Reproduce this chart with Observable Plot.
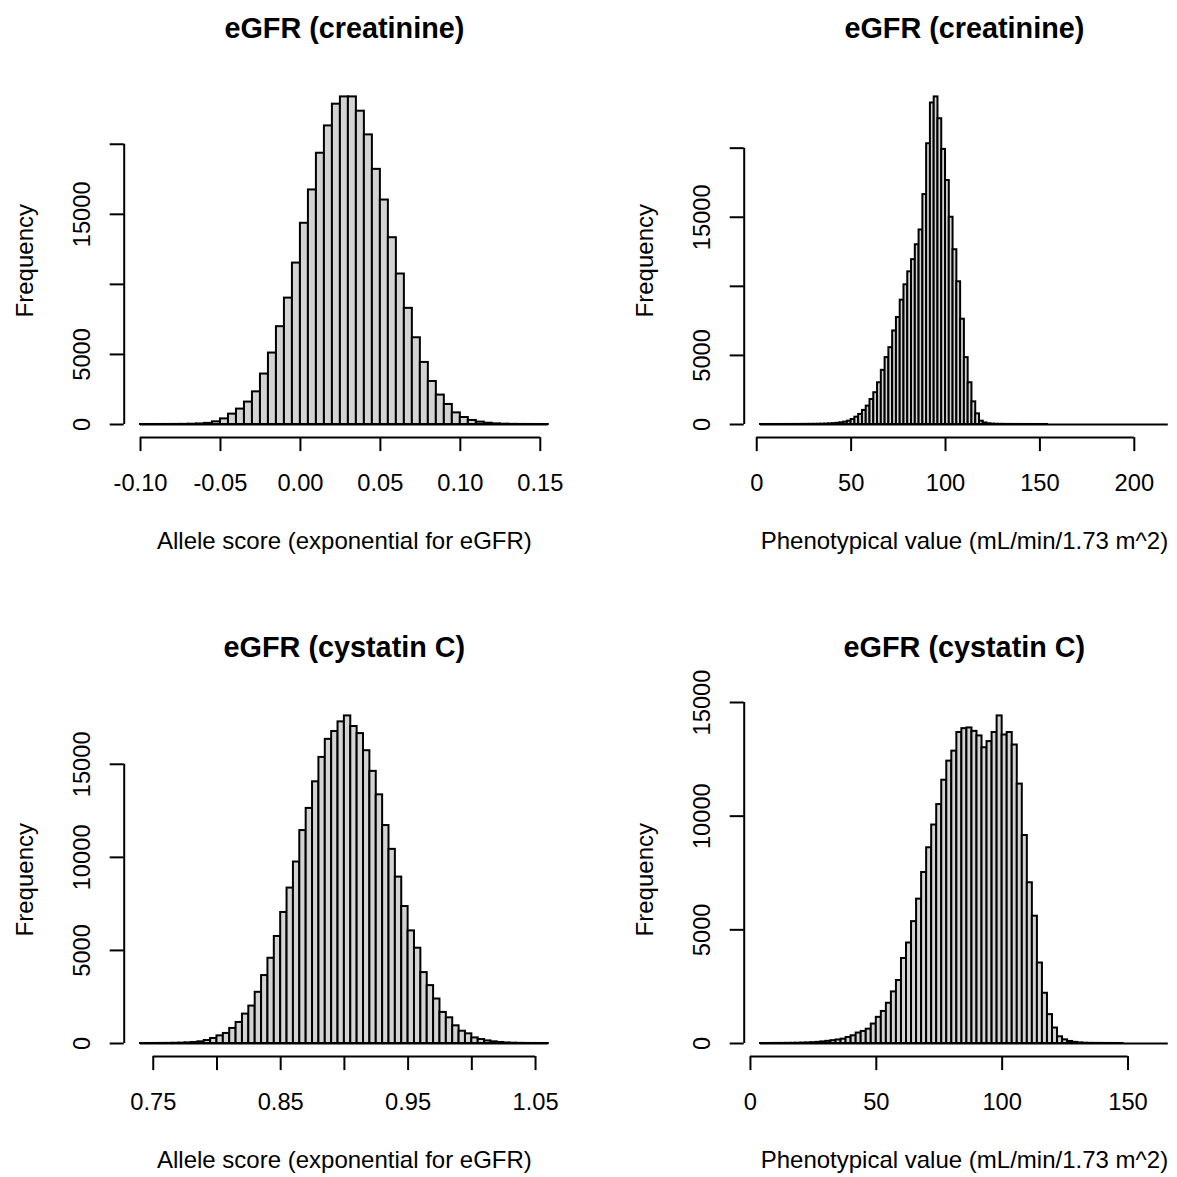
<!DOCTYPE html>
<html><head><meta charset="utf-8">
<script src="https://cdn.jsdelivr.net/npm/d3@7"></script>
<script src="https://cdn.jsdelivr.net/npm/@observablehq/plot@0.6"></script>
<style>
html,body{margin:0;padding:0;background:#fff;overflow:hidden}
#wrap{position:relative;width:1177px;height:1177px;overflow:hidden;background:#fff}
.panel{position:absolute;width:619px;height:619px}
.panel svg{max-width:none !important;width:619px;height:619px}
</style></head><body><div id="wrap"></div>
<script>
// ---- Panel 1: eGFR (creatinine), allele score ----
const creatAlleleStart = -0.1, creatAlleleWidth = 0.005;
const creatAlleleCounts = [1,1,2,3,6,10,20,40,80,190,400,740,1100,1600,2330,3600,5100,6980,9020,11520,
  14360,16740,19360,21310,22860,23380,23380,22360,20670,18210,16020,13330,10740,8290,6190,4430,3070,2100,1430,830,
  500,290,170,90,45,22,10,5,3,1,1];
const creatAlleleXTicks = [-0.10,-0.05,0.00,0.05,0.10,0.15];
const creatAlleleXLabels = ["-0.10","-0.05","0.00","0.05","0.10","0.15"];
const creatAlleleYTicks = [0,5000,10000,15000,20000];
const creatAlleleYLabels = ["0","5000","","15000",""];

// ---- Panel 2: eGFR (creatinine), phenotypical value ----
const creatPhenoStart = 2, creatPhenoWidth = 2;
const creatPhenoCounts = [1,1,1,1,2,2,2,3,3,4,
  5,6,8,10,13,17,22,30,42,60,
  85,120,170,240,360,530,730,1020,1330,1810,
  2300,3020,3920,4840,5560,6770,7740,9000,10110,11050,
  11930,13010,14080,16640,20320,23270,23710,22130,19910,17660,
  15000,12650,10330,7620,4840,3020,1640,770,240,110,
  50,25,15,10,7,5,4,3,3,2,
  2,2,1,1,1,1,0,0,0,0,
  0,0,0,0,0,0,0,0,0,0,0,0,0,0,0,0,0,0,0,0,0,0,0,0,0,0,0,0];
const creatPhenoXTicks = [0,50,100,150,200];
const creatPhenoXLabels = ["0","50","100","150","200"];
const creatPhenoYTicks = [0,5000,10000,15000,20000];
const creatPhenoYLabels = ["0","5000","","15000",""];

// ---- Panel 3: eGFR (cystatin C), allele score ----
const cysAlleleStart = 0.74, cysAlleleWidth = 0.005;
const cysAlleleCounts = [1,1,2,4,6,12,20,35,55,90,160,270,410,540,810,1130,1580,2010,2750,3650,
  4580,5750,7040,8350,9750,11440,12630,14060,15370,16340,16760,17280,17600,17030,16650,15730,14620,13360,11710,10430,
  8940,7360,6050,5120,3810,3110,2390,1670,1380,950,660,520,300,215,140,90,55,30,15,8,4,2,1,1];
const cysAlleleXTicks = [0.75,0.80,0.85,0.90,0.95,1.00,1.05];
const cysAlleleXLabels = ["0.75","","0.85","","0.95","","1.05"];
const cysAlleleYTicks = [0,5000,10000,15000];
const cysAlleleYLabels = ["0","5000","10000","15000"];

// ---- Panel 4: eGFR (cystatin C), phenotypical value ----
const cysPhenoStart = 4, cysPhenoWidth = 2;
const cysPhenoCounts = [1,1,2,3,4,6,8,12,18,25,35,50,70,95,125,155,190,265,340,460,
  530,630,855,1150,1410,1770,2270,2770,3740,4420,5360,6350,7520,8610,9610,10510,11580,12420,12860,13680,
  13850,13880,13730,13530,13010,13280,13680,14410,13570,13680,13130,11410,9150,7070,5600,3540,2210,1270,680,295,
  160,90,50,25,12,6,4,3,2,2,1,1,0,0,0,0,0,0,0,0,0];
const cysPhenoXTicks = [0,50,100,150];
const cysPhenoXLabels = ["0","50","100","150"];
const cysPhenoYTicks = [0,5000,10000,15000];
const cysPhenoYLabels = ["0","5000","10000","15000"];

const titleCreat = "eGFR (creatinine)";
const titleCys = "eGFR (cystatin C)";
const xTitleAllele = "Allele score (exponential for eGFR)";
const xTitlePheno = "Phenotypical value (mL/min/1.73 m^2)";
const yTitle = "Frequency";

const FONT = "'Liberation Sans', Arial, Helvetica, sans-serif";

function panel(cfg) {
  const n = cfg.counts.length;
  const edge = i => +(cfg.start + i * cfg.width).toFixed(6);
  const bins = cfg.counts.map((c, i) => ({x1: edge(i), x2: edge(i + 1), n: c}));
  const lo = edge(0), hi = edge(n);
  const M = d3.max(cfg.counts);
  const xd = [lo - 0.04 * (hi - lo), hi + 0.04 * (hi - lo)];
  const yd = [-0.04 * M, 1.04 * M];
  const yl = cfg.yTicks.map((t, i) => ({t, s: cfg.yLabels[i]})).filter(d => d.s);
  const xl = cfg.xTicks.map((t, i) => ({t, s: cfg.xLabels[i]})).filter(d => d.s);
  return Plot.plot({
    width: 619, height: 619,
    marginLeft: 123.7, marginRight: 54.9, marginTop: 83.3, marginBottom: 181.9,
    x: {domain: xd, axis: null},
    y: {domain: yd, axis: null},
    style: {fontFamily: FONT, background: "white", color: "black", overflow: "visible", maxWidth: "none"},
    marks: [
      Plot.ruleY([0], {x1: lo, x2: hi, stroke: "black", strokeWidth: 2}),
      Plot.rectY(bins.filter(d => d.n > 0), {x1: "x1", x2: "x2", y1: 0, y2: "n", fill: "#d3d3d3", stroke: "black", strokeWidth: 2, inset: 0}),
      // x axis
      Plot.ruleY([yd[0]], {x1: cfg.xTicks[0], x2: cfg.xTicks[cfg.xTicks.length - 1], stroke: "black", strokeWidth: 2}),
      Plot.axisX(cfg.xTicks, {tickSize: 14, tickFormat: () => "", strokeWidth: 2}),
      Plot.text(xl, {x: "t", text: "s", frameAnchor: "bottom", dy: 46, fontSize: 23.7, lineAnchor: "middle", textAnchor: "middle"}),
      Plot.text([cfg.xTitle], {frameAnchor: "bottom", dy: 104, fontSize: 24, lineAnchor: "middle"}),
      // y axis
      Plot.ruleX([xd[0]], {y1: cfg.yTicks[0], y2: cfg.yTicks[cfg.yTicks.length - 1], stroke: "black", strokeWidth: 2}),
      Plot.axisY(cfg.yTicks, {tickSize: 14, tickFormat: () => "", strokeWidth: 2}),
      Plot.text(yl, {y: "t", text: "s", frameAnchor: "left", dx: -41.6, rotate: -90, fontSize: 23.7, lineAnchor: "middle", textAnchor: "middle"}),
      Plot.text([yTitle], {frameAnchor: "left", dx: -99, rotate: -90, fontSize: 24, lineAnchor: "middle", textAnchor: "middle"}),
      // title
      Plot.text([cfg.title], {frameAnchor: "top", dy: -55, fontSize: 28.8, fontWeight: "bold", lineAnchor: "middle"})
    ]
  });
}

const panels = [
  {left: 0, top: 0, title: titleCreat, xTitle: xTitleAllele, start: creatAlleleStart, width: creatAlleleWidth, counts: creatAlleleCounts,
   xTicks: creatAlleleXTicks, xLabels: creatAlleleXLabels, yTicks: creatAlleleYTicks, yLabels: creatAlleleYLabels},
  {left: 619.5, top: 0, title: titleCreat, xTitle: xTitlePheno, start: creatPhenoStart, width: creatPhenoWidth, counts: creatPhenoCounts,
   xTicks: creatPhenoXTicks, xLabels: creatPhenoXLabels, yTicks: creatPhenoYTicks, yLabels: creatPhenoYLabels},
  {left: 0, top: 618.7, title: titleCys, xTitle: xTitleAllele, start: cysAlleleStart, width: cysAlleleWidth, counts: cysAlleleCounts,
   xTicks: cysAlleleXTicks, xLabels: cysAlleleXLabels, yTicks: cysAlleleYTicks, yLabels: cysAlleleYLabels},
  {left: 619.5, top: 618.7, title: titleCys, xTitle: xTitlePheno, start: cysPhenoStart, width: cysPhenoWidth, counts: cysPhenoCounts,
   xTicks: cysPhenoXTicks, xLabels: cysPhenoXLabels, yTicks: cysPhenoYTicks, yLabels: cysPhenoYLabels}
];

const wrap = document.getElementById("wrap");
for (const p of panels) {
  const div = document.createElement("div");
  div.className = "panel";
  div.style.left = p.left + "px";
  div.style.top = p.top + "px";
  div.appendChild(panel(p));
  wrap.appendChild(div);
}
</script></body></html>
